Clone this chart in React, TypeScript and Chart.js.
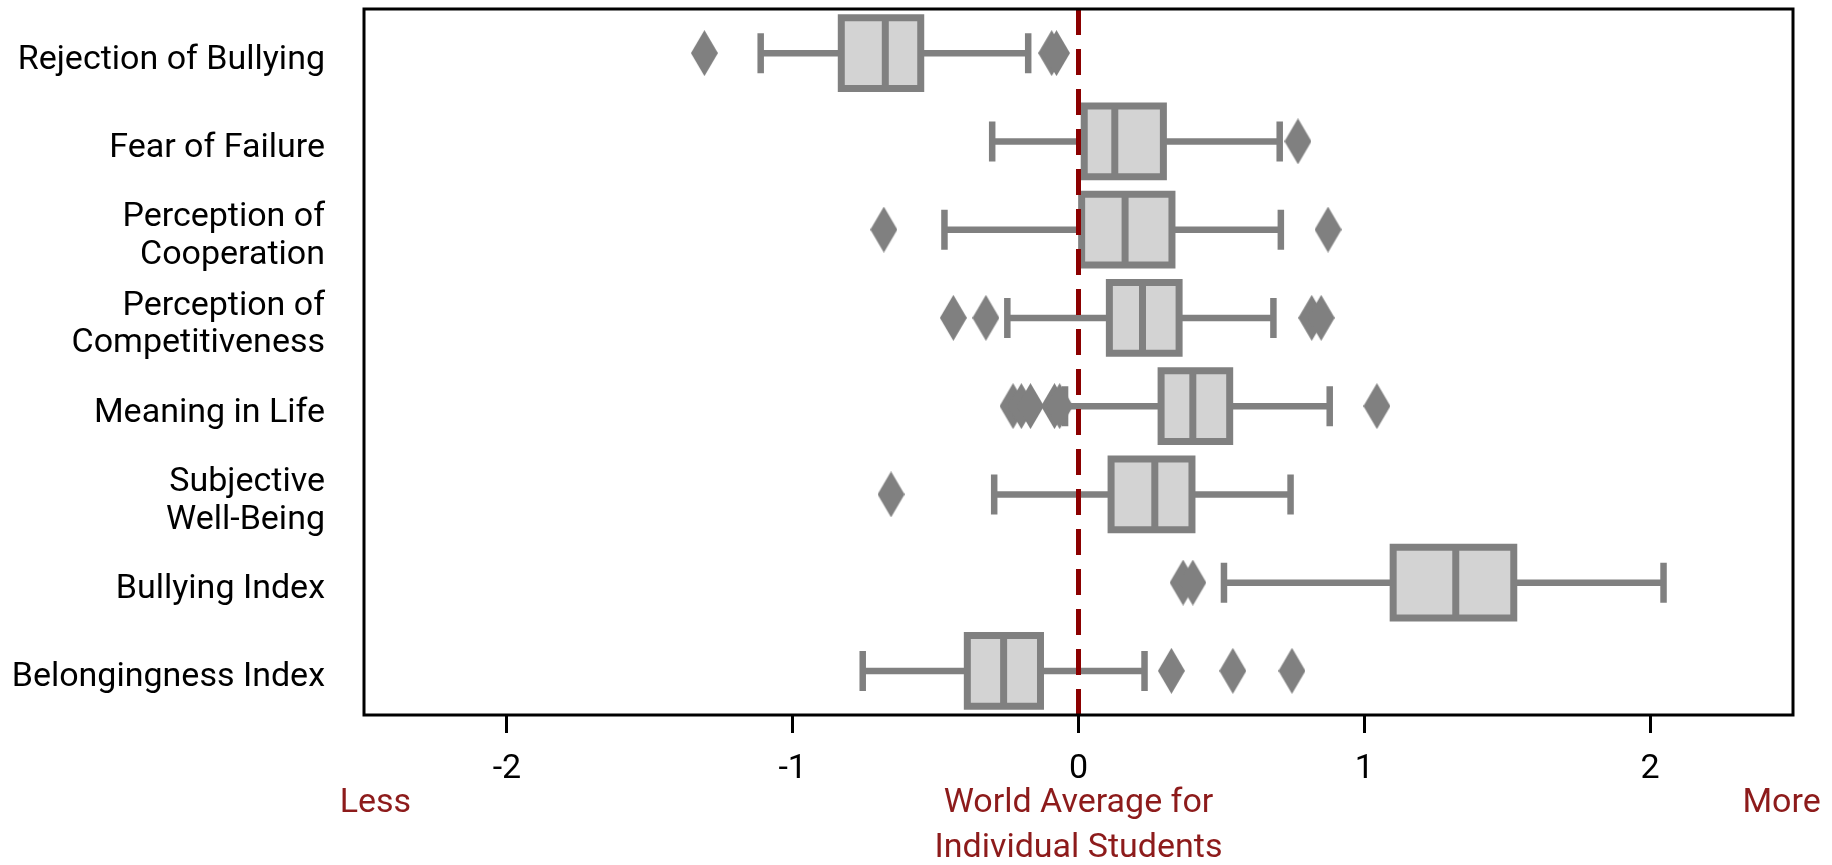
import React, { useEffect, useRef } from 'react';
import { Chart, registerables } from 'chart.js';

Chart.register(...registerables);

// ---- data ----
const CATEGORIES = [
  'Rejection of Bullying',
  'Fear of Failure',
  'Perception of Cooperation',
  'Perception of Competitiveness',
  'Meaning in Life',
  'Subjective Well-Being',
  'Bullying Index',
  'Belongingness Index',
];
const CATEGORY_LINES = [
  ['Rejection of Bullying'],
  ['Fear of Failure'],
  ['Perception of', 'Cooperation'],
  ['Perception of', 'Competitiveness'],
  ['Meaning in Life'],
  ['Subjective', 'Well-Being'],
  ['Bullying Index'],
  ['Belongingness Index'],
];
const WHISKER_LOW = [-1.112, -0.302, -0.469, -0.249, -0.047, -0.295, 0.509, -0.755];
const Q1 = [-0.83, 0.02, 0.011, 0.108, 0.289, 0.114, 1.101, -0.389];
const MEDIAN = [-0.676, 0.127, 0.163, 0.224, 0.4, 0.267, 1.32, -0.262];
const Q3 = [-0.552, 0.297, 0.327, 0.352, 0.529, 0.397, 1.523, -0.133];
const WHISKER_HIGH = [-0.176, 0.704, 0.708, 0.682, 0.879, 0.742, 2.047, 0.231];
const OUTLIERS = [
  [-1.309, -0.094, -0.077],
  [0.768],
  [-0.681, 0.873],
  [-0.438, -0.324, 0.816, 0.849],
  [-0.229, -0.2, -0.168, -0.084, -0.066, 1.044],
  [-0.656],
  [0.366, 0.4],
  [0.325, 0.54, 0.747],
];
const X_TICKS = [-2, -1, 0, 1, 2];
const X_MIN = -2.5;
const X_MAX = 2.5;
const REFERENCE_VALUE = 0;
const LESS_LABEL = 'Less';
const MORE_LABEL = 'More';
const CENTER_LABEL = ['World Average for', 'Individual Students'];
const LESS_POS = -2.46;
const MORE_POS = 2.46;

// ---- styles ----
const FONT = 'Roboto';
const FONT_SIZE = 34;
const GRAY = '#808080';
const LIGHT = '#d3d3d3';
const DARK_RED = '#8b0000';
const TEXT_RED = '#8d1b1b';
const STROKE = 7;

function makeDiamond(): HTMLCanvasElement {
  const c = document.createElement('canvas');
  c.width = 27;
  c.height = 46;
  const g = c.getContext('2d')!;
  g.fillStyle = GRAY;
  g.beginPath();
  g.moveTo(13.5, 0);
  g.lineTo(27, 23);
  g.lineTo(13.5, 46);
  g.lineTo(0, 23);
  g.closePath();
  g.fill();
  return c;
}

const overlayPlugin = {
  id: 'overlay',
  afterDatasetsDraw(chart: any) {
    const { ctx, chartArea, scales } = chart;
    const x = scales.x.getPixelForValue(REFERENCE_VALUE);
    ctx.save();
    ctx.beginPath();
    ctx.rect(chartArea.left, chartArea.top, chartArea.right - chartArea.left, chartArea.bottom - chartArea.top);
    ctx.clip();
    ctx.beginPath();
    ctx.strokeStyle = DARK_RED;
    ctx.lineWidth = 5;
    ctx.setLineDash([26, 14]);
    ctx.moveTo(x, chartArea.bottom);
    ctx.lineTo(x, chartArea.top);
    ctx.stroke();
    ctx.restore();
  },
  afterDraw(chart: any) {
    const { ctx, chartArea, scales } = chart;
    ctx.save();
    ctx.strokeStyle = '#000';
    ctx.lineWidth = 3;
    ctx.strokeRect(chartArea.left, chartArea.top, chartArea.right - chartArea.left, chartArea.bottom - chartArea.top);
    ctx.fillStyle = TEXT_RED;
    ctx.font = `${FONT_SIZE}px ${FONT}`;
    ctx.textAlign = 'center';
    ctx.textBaseline = 'middle';
    const y1 = chartArea.bottom + 88;
    const y2 = chartArea.bottom + 133;
    ctx.fillText(LESS_LABEL, scales.x.getPixelForValue(LESS_POS), y1);
    ctx.fillText(MORE_LABEL, scales.x.getPixelForValue(MORE_POS), y1);
    ctx.fillText(CENTER_LABEL[0], scales.x.getPixelForValue(REFERENCE_VALUE), y1);
    ctx.fillText(CENTER_LABEL[1], scales.x.getPixelForValue(REFERENCE_VALUE), y2);
    ctx.restore();
  },
};

export default function App() {
  const ref = useRef<HTMLCanvasElement>(null);

  useEffect(() => {
    const canvas = ref.current!;
    const diamond = makeDiamond();

    const boxData = CATEGORIES.map((_, i) => [Q1[i], Q3[i]]);
    const whiskerData = CATEGORIES.map((_, i) => [WHISKER_LOW[i], WHISKER_HIGH[i]]);
    const capData = CATEGORIES.flatMap((c, i) => [
      { x: WHISKER_LOW[i], y: c },
      { x: WHISKER_HIGH[i], y: c },
    ]);
    const medianData = CATEGORIES.map((c, i) => ({ x: MEDIAN[i], y: c }));
    const outlierData = CATEGORIES.flatMap((c, i) => OUTLIERS[i].map((v) => ({ x: v, y: c })));

    const pointCommon = {
      type: 'scatter' as const,
      borderColor: GRAY,
      backgroundColor: GRAY,
    };

    const chart = new Chart(canvas, {
      type: 'bar',
      data: {
        labels: CATEGORIES,
        datasets: [
          {
            ...pointCommon,
            label: 'outliers',
            data: outlierData as any,
            pointStyle: diamond as any,
            pointRadius: 10,
            pointHoverRadius: 10,
            order: 0,
          } as any,
          {
            ...pointCommon,
            label: 'median',
            data: medianData as any,
            pointStyle: 'line',
            rotation: 90,
            pointRadius: 35,
            pointHoverRadius: 35,
            borderWidth: STROKE,
            order: 1,
          } as any,
          {
            type: 'bar',
            label: 'box-fill',
            data: boxData as any,
            backgroundColor: LIGHT,
            borderWidth: 0,
            grouped: false,
            categoryPercentage: 1,
            barPercentage: 0.8,
            inflateAmount: -STROKE / 2,
            order: 2,
          } as any,
          {
            type: 'bar',
            label: 'box-edge',
            data: boxData as any,
            backgroundColor: GRAY,
            borderWidth: 0,
            grouped: false,
            categoryPercentage: 1,
            barPercentage: 0.8,
            inflateAmount: STROKE / 2,
            order: 3,
          } as any,
          {
            ...pointCommon,
            label: 'caps',
            data: capData as any,
            pointStyle: 'line',
            rotation: 90,
            pointRadius: 20,
            pointHoverRadius: 20,
            borderWidth: 6.5,
            order: 4,
          } as any,
          {
            type: 'bar',
            label: 'whiskers',
            data: whiskerData as any,
            backgroundColor: GRAY,
            borderWidth: 0,
            grouped: false,
            barThickness: 6.5,
            inflateAmount: 0,
            order: 5,
          } as any,
        ],
      },
      options: {
        indexAxis: 'y',
        responsive: false,
        animation: false,
        devicePixelRatio: 1,
        events: [],
        layout: { autoPadding: false, padding: { top: 9, right: 39, left: 0, bottom: 0 } },
        plugins: {
          legend: { display: false },
          tooltip: { enabled: false },
        },
        scales: {
          x: {
            type: 'linear',
            position: 'bottom',
            min: X_MIN,
            max: X_MAX,
            afterBuildTicks: (scale: any) => {
              scale.ticks = X_TICKS.map((v) => ({ value: v }));
            },
            afterFit: (scale: any) => {
              scale.height = 150;
              scale.paddingLeft = 0;
              scale.paddingRight = 0;
            },
            border: { display: false },
            grid: {
              drawOnChartArea: false,
              drawTicks: true,
              tickLength: 18,
              tickWidth: 3,
              tickColor: '#000',
            },
            ticks: {
              color: '#000',
              padding: 16,
              font: { family: FONT, size: FONT_SIZE },
              callback: (v: any) => String(v),
              maxRotation: 0,
              autoSkip: false,
            },
          },
          y: {
            type: 'category',
            position: 'left',
            offset: true,
            afterFit: (scale: any) => {
              scale.width = 364;
              scale.paddingTop = 0;
              scale.paddingBottom = 0;
            },
            border: { display: false },
            grid: { display: false, drawTicks: false },
            ticks: {
              color: '#000',
              padding: 39,
              labelOffset: 7,
              font: { family: FONT, size: FONT_SIZE, lineHeight: 1.1 },
              callback: (_v: any, i: number) => CATEGORY_LINES[i],
              autoSkip: false,
            },
          },
        },
      },
      plugins: [overlayPlugin],
    } as any);

    return () => chart.destroy();
  }, []);

  return (
    <div style={{ position: 'absolute', left: 0, top: 0, width: 1832, height: 865, background: '#fff' }}>
      <canvas ref={ref} width={1832} height={865} style={{ display: 'block', width: 1832, height: 865 }} />
    </div>
  );
}
